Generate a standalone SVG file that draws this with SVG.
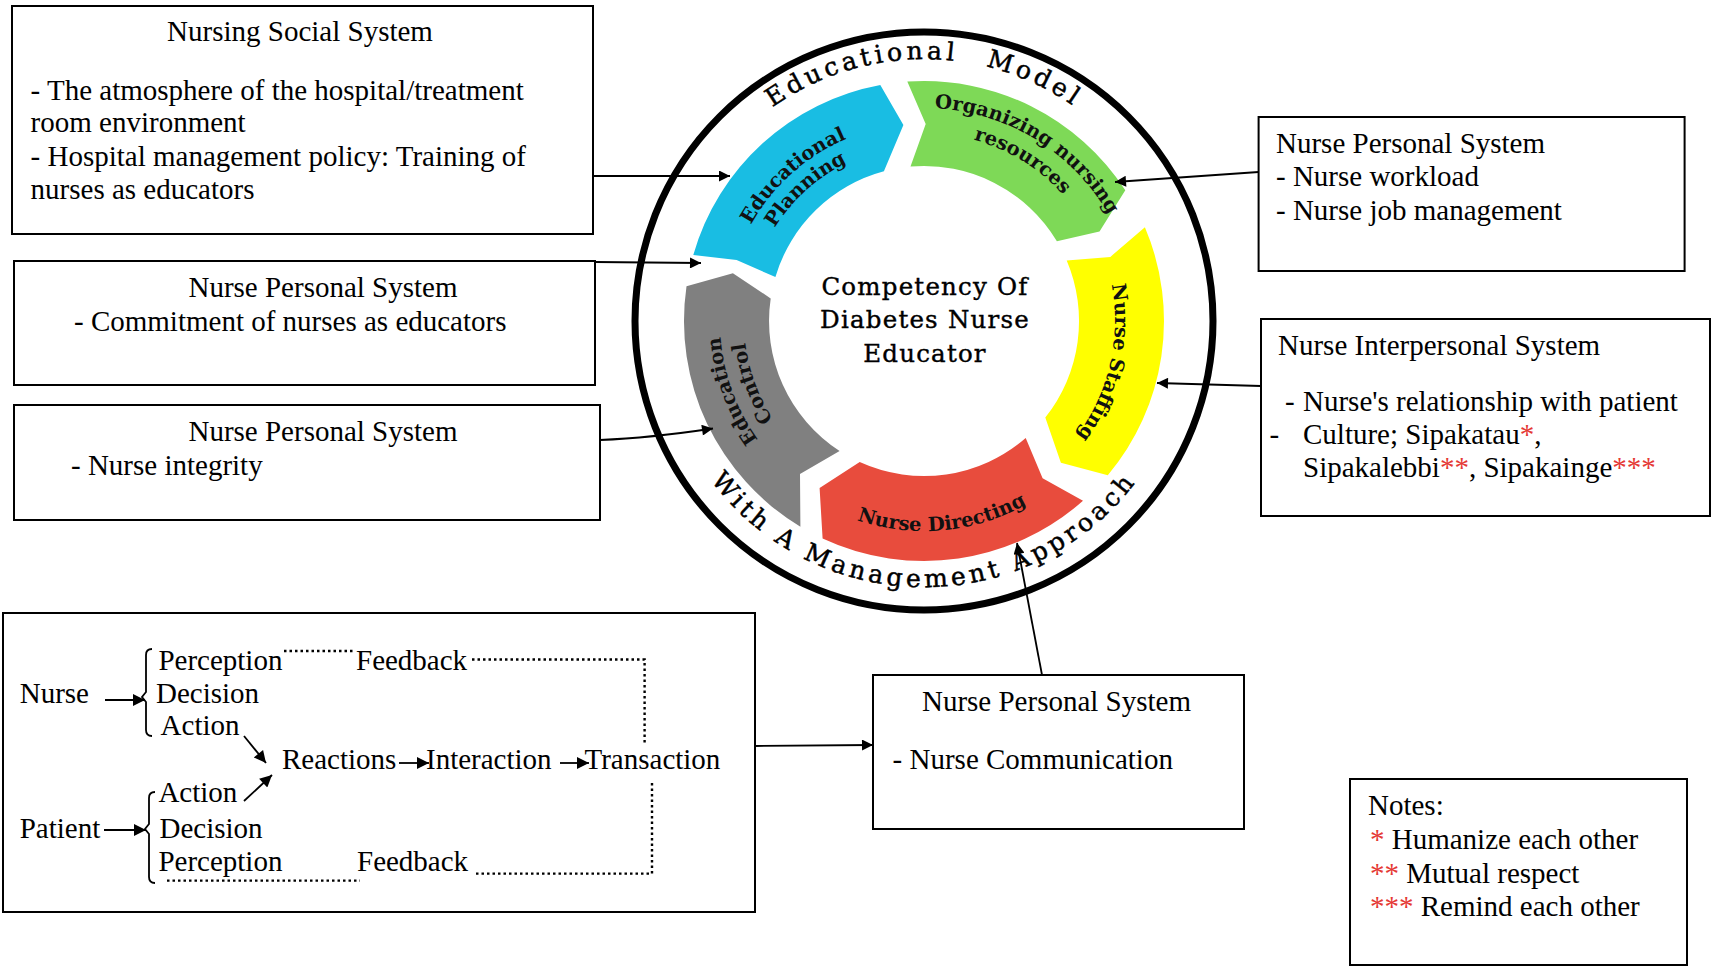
<svg xmlns="http://www.w3.org/2000/svg" xmlns:xlink="http://www.w3.org/1999/xlink" width="1713" height="968" viewBox="0 0 1713 968">
<defs>
<style>
.box{fill:#fff;stroke:#000;stroke-width:2}
.t{font-family:"Liberation Serif","Times New Roman",serif;font-size:29px;fill:#000}
.c{text-anchor:middle}
.ring{font-family:"DejaVu Serif",serif;font-size:25px;letter-spacing:4px;fill:#000;stroke:#000;stroke-width:0.5}
.ctr{font-family:"DejaVu Serif",serif;font-size:24.5px;letter-spacing:1.2px;text-anchor:middle;fill:#000;stroke:#000;stroke-width:0.4}
.seg{font-family:"DejaVu Serif",serif;font-weight:bold;font-size:19.5px;fill:#111}
.ln{fill:none;stroke:#000;stroke-width:1.8}
.dot{fill:none;stroke:#000;stroke-width:2.4;stroke-dasharray:2.5 3}
.red{fill:#e53935}
</style>
<marker id="ah" viewBox="0 0 10 10" refX="10" refY="5" markerWidth="15" markerHeight="11" markerUnits="userSpaceOnUse" orient="auto"><path d="M0,0 L10,5 L0,10 Z" fill="#000"/></marker>
<marker id="ahs" viewBox="0 0 10 10" refX="10" refY="5" markerWidth="15" markerHeight="12" markerUnits="userSpaceOnUse" orient="auto"><path d="M0,0 L10,5 L0,10 Z" fill="#000"/></marker>
<path id="a198" d="M752.5,222 A198,198 0 0 1 1095.5,222"/>
<path id="a176" d="M771.6,233 A176,176 0 0 1 1076.4,233"/>
<path id="a213" d="M739.5,214.5 A213,213 0 0 1 1108.5,214.5"/>
<path id="a188" d="M761.2,227 A188,188 0 0 1 1086.8,227"/>
<path id="a191" d="M758.6,225.5 A191,191 0 0 1 1089.4,225.5"/>
<path id="a204" d="M747.3,219 A204,204 0 0 1 1100.7,219"/>
<path id="a180" d="M768.1,231 A180,180 0 0 1 1079.9,231"/>
<path id="rtop" d="M666,275.5 A262,262 0 0 1 1182,275.5"/>
<path id="b210" d="M742.1,426 A210,210 0 0 0 1105.9,426"/>
<path id="rbot" d="M662,367.2 A266,266 0 0 0 1186,367.2"/>
</defs>
<rect x="0" y="0" width="1713" height="968" fill="#fff"/>

<g id="model">
  <circle cx="924" cy="321" r="289" fill="none" stroke="#000" stroke-width="7"/>
  <g transform="rotate(-14 924 321)"><text class="ring"><textPath href="#rtop" xlink:href="#rtop" startOffset="50%" text-anchor="middle">Educational</textPath></text></g>
  <g transform="rotate(24.5 924 321)"><text class="ring"><textPath href="#rtop" xlink:href="#rtop" startOffset="50%" text-anchor="middle">Model</textPath></text></g>
  <g transform="rotate(0 924 321)"><text class="ring"><textPath href="#rbot" xlink:href="#rbot" startOffset="50%" text-anchor="middle">With A Management Approach</textPath></text></g>
  <text class="ctr" x="925" y="295">Competency Of</text>
  <text class="ctr" x="925" y="328">Diabetes Nurse</text>
  <text class="ctr" x="925" y="362">Educator</text>
</g>

<g id="seg-planning">
  <path d="M693.3,254.9 A240,240 0 0 1 880.3,85 L903.4,125.1 L883.9,171.3 A155,155 0 0 0 775.4,277 L736.6,260.1 Z" fill="#19bde3"/>
  <g transform="rotate(318 924 321)">
    <text class="seg"><textPath href="#a198" xlink:href="#a198" startOffset="50%" text-anchor="middle">Educational</textPath></text>
    <text class="seg"><textPath href="#a176" xlink:href="#a176" startOffset="50%" text-anchor="middle">Planning</textPath></text>
  </g>
</g>
<g id="seg-organizing">
  <path d="M907.3,81.6 A240,240 0 0 1 1125.3,190.3 L1099.5,231.6 L1056.9,241.2 A155,155 0 0 0 910.5,166.6 L925.7,124 Z" fill="#7ed957"/>
  <g transform="rotate(31.5 924 321)">
    <text class="seg"><textPath href="#a213" xlink:href="#a213" startOffset="50%" text-anchor="middle">Organizing nursing</textPath></text>
    <text class="seg"><textPath href="#a188" xlink:href="#a188" startOffset="50%" text-anchor="middle">resources</textPath></text>
  </g>
</g>
<g id="seg-staffing">
  <path d="M1144.9,227.2 A240,240 0 0 1 1107.8,475.3 L1060.9,462.7 L1045.3,417.5 A155,155 0 0 0 1066.7,260.4 L1110.3,256.9 Z" fill="#ffff00"/>
  <g transform="rotate(103 924 321)">
    <text class="seg"><textPath href="#a191" xlink:href="#a191" startOffset="50%" text-anchor="middle">Nurse Staffing</textPath></text>
  </g>
</g>
<g id="seg-directing">
  <path d="M1083,500.8 A240,240 0 0 1 822.6,538.5 L819.6,488.1 L859.7,462.1 A155,155 0 0 0 1025.7,438 L1042.6,478.3 Z" fill="#e84c3d"/>
  <g transform="rotate(-5.3 924 321)">
    <text class="seg"><textPath href="#b210" xlink:href="#b210" startOffset="50%" text-anchor="middle">Nurse Directing</textPath></text>
  </g>
</g>
<g id="seg-control">
  <path d="M800.4,526.7 A240,240 0 0 1 686.5,286.3 L732.9,273.3 L770.7,298.4 A155,155 0 0 0 839.6,451 L800,474.1 Z" fill="#808080"/>
  <g transform="rotate(250 924 321)">
    <text class="seg"><textPath href="#a204" xlink:href="#a204" startOffset="50%" text-anchor="middle">Education</textPath></text>
    <text class="seg"><textPath href="#a180" xlink:href="#a180" startOffset="50%" text-anchor="middle">Control</textPath></text>
  </g>
</g>

<g id="box-social">
  <rect class="box" x="12" y="6" width="581" height="228"/>
  <text class="t c" x="300" y="41">Nursing Social System</text>
  <text class="t" x="30.6" y="99.5">- The atmosphere of the hospital/treatment</text>
  <text class="t" x="30.6" y="132">room environment</text>
  <text class="t" x="30.6" y="166">- Hospital management policy: Training of</text>
  <text class="t" x="30.6" y="199">nurses as educators</text>
</g>
<g id="box-commitment">
  <rect class="box" x="14" y="261" width="581" height="124"/>
  <text class="t c" x="323" y="297">Nurse Personal System</text>
  <text class="t" x="74" y="331">- Commitment of nurses as educators</text>
</g>
<g id="box-integrity">
  <rect class="box" x="14" y="405" width="586" height="115"/>
  <text class="t c" x="323" y="441">Nurse Personal System</text>
  <text class="t" x="71" y="475">- Nurse integrity</text>
</g>
<g id="box-workload">
  <rect class="box" x="1258.6" y="117" width="426" height="154"/>
  <text class="t" x="1276" y="153">Nurse Personal System</text>
  <text class="t" x="1276" y="186">- Nurse workload</text>
  <text class="t" x="1276" y="219.6">- Nurse job management</text>
</g>
<g id="box-interpersonal">
  <rect class="box" x="1261" y="319" width="449" height="197"/>
  <text class="t" x="1278" y="355">Nurse Interpersonal System</text>
  <text class="t" x="1285" y="411">-</text>
  <text class="t" x="1303" y="411">Nurse's relationship with patient</text>
  <text class="t" x="1269.5" y="443.5">-</text>
  <text class="t" x="1303" y="443.5">Culture; Sipakatau<tspan class="red">*</tspan>,</text>
  <text class="t" x="1303" y="477">Sipakalebbi<tspan class="red">**</tspan>, Sipakainge<tspan class="red">***</tspan></text>
</g>
<g id="box-interaction">
  <rect class="box" x="3" y="613" width="752" height="299"/>
  <text class="t" x="19.7" y="702.5">Nurse</text>
  <path class="ln" d="M152,649 Q146,649 146,655 L146,692 L142,697 L146,702 L146,730 Q146,736 152,736"/>
  <text class="t" x="158.4" y="670">Perception</text>
  <text class="t" x="156" y="702.5">Decision</text>
  <text class="t" x="160.6" y="735">Action</text>
  <text class="t" x="356" y="670">Feedback</text>
  <text class="t" x="282" y="769">Reactions</text>
  <text class="t" x="426" y="769">Interaction</text>
  <text class="t" x="584.5" y="769">Transaction</text>
  <text class="t" x="19.7" y="838">Patient</text>
  <path class="ln" d="M155,792 Q149,792 149,798 L149,824 L145,829 L149,834 L149,877 Q149,883 155,883"/>
  <text class="t" x="158.4" y="802">Action</text>
  <text class="t" x="159.5" y="838">Decision</text>
  <text class="t" x="158.4" y="871">Perception</text>
  <text class="t" x="357" y="871">Feedback</text>
</g>
<g id="box-communication">
  <rect class="box" x="873" y="675" width="371" height="154"/>
  <text class="t c" x="1056.5" y="711">Nurse Personal System</text>
  <text class="t" x="892.6" y="769">- Nurse Communication</text>
</g>
<g id="box-notes">
  <rect class="box" x="1350" y="779" width="337" height="186"/>
  <text class="t" x="1368" y="815">Notes:</text>
  <text class="t" x="1370" y="849"><tspan class="red">*</tspan> Humanize each other</text>
  <text class="t" x="1370" y="883"><tspan class="red">**</tspan> Mutual respect</text>
  <text class="t" x="1370" y="915.5"><tspan class="red">***</tspan> Remind each other</text>
</g>

<g id="connectors">
  <path class="ln" d="M593,176 L730,176" marker-end="url(#ah)"/>
  <path class="ln" d="M595,262 L701,263" marker-end="url(#ah)"/>
  <path class="ln" d="M600,440 Q650,438 713,428.5" marker-end="url(#ah)"/>
  <path class="ln" d="M1258.6,172 L1115,182" marker-end="url(#ah)"/>
  <path class="ln" d="M1261,386 L1157,383" marker-end="url(#ah)"/>
  <path class="ln" d="M1042,675 L1017,543" marker-end="url(#ah)"/>
  <path class="ln" d="M755,746 L873,745" marker-end="url(#ah)"/>
  <path class="ln" d="M105,700 L145,700" marker-end="url(#ahs)"/>
  <path class="ln" d="M104,830 L146,830" marker-end="url(#ahs)"/>
  <path class="ln" d="M244,736 L266,763" marker-end="url(#ahs)"/>
  <path class="ln" d="M244,801 L272,775" marker-end="url(#ahs)"/>
  <path class="ln" d="M399,763 L429,763" marker-end="url(#ahs)"/>
  <path class="ln" d="M560,763 L589,763" marker-end="url(#ahs)"/>
  <path class="dot" d="M284,651 L353,651"/>
  <path class="dot" d="M472,659.5 L644.6,659.5 L644.6,745"/>
  <path class="dot" d="M167,880.6 L360,880.6"/>
  <path class="dot" d="M476,873.6 L652,873.6 L652,780"/>
</g>
</svg>
